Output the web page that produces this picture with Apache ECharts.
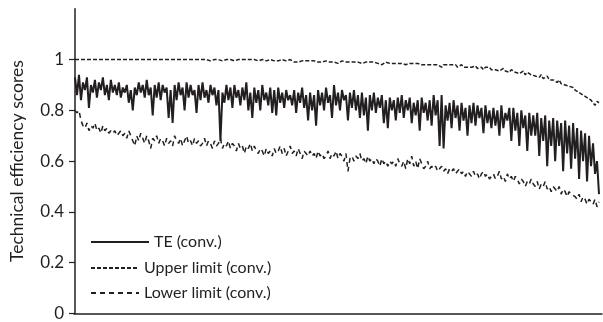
<!DOCTYPE html>
<html><head><meta charset="utf-8">
<script src="https://cdn.jsdelivr.net/npm/echarts@6/dist/echarts.min.js"></script>
<style>html,body{margin:0;padding:0;background:#fff}#c{width:603px;height:322px}</style>
</head><body><div id="c"></div>
<script>
const yTicks = [0, 0.2, 0.4, 0.6, 0.8, 1];
const seriesNames = ['TE (conv.)', 'Upper limit (conv.)', 'Lower limit (conv.)'];
const teValues = [
0.93,0.86,0.94,0.84,0.91,0.88,0.93,0.81,0.90,0.87,
0.92,0.85,0.91,0.88,0.93,0.86,0.90,0.84,0.92,0.87,
0.90,0.86,0.91,0.85,0.89,0.87,0.90,0.83,0.88,0.80,
0.89,0.86,0.91,0.87,0.90,0.85,0.92,0.86,0.89,0.78,
0.90,0.85,0.91,0.84,0.90,0.87,0.89,0.77,0.88,0.75,
0.90,0.84,0.91,0.86,0.89,0.80,0.91,0.85,0.90,0.86,
0.88,0.79,0.90,0.84,0.91,0.85,0.88,0.83,0.90,0.86,
0.89,0.82,0.88,0.68,0.87,0.83,0.90,0.84,0.89,0.81,
0.90,0.85,0.88,0.82,0.89,0.84,0.91,0.80,0.87,0.77,
0.89,0.83,0.88,0.80,0.90,0.84,0.87,0.82,0.89,0.79,
0.88,0.78,0.89,0.83,0.87,0.81,0.88,0.84,0.86,0.82,
0.88,0.79,0.87,0.83,0.89,0.81,0.86,0.76,0.87,0.80,
0.86,0.74,0.88,0.82,0.87,0.80,0.89,0.83,0.86,0.77,
0.90,0.82,0.87,0.80,0.88,0.84,0.86,0.76,0.87,0.81,
0.88,0.80,0.86,0.77,0.87,0.78,0.85,0.72,0.86,0.80,
0.87,0.79,0.85,0.81,0.86,0.75,0.84,0.73,0.85,0.80,
0.84,0.76,0.85,0.79,0.86,0.77,0.84,0.80,0.85,0.75,
0.83,0.78,0.84,0.72,0.85,0.79,0.83,0.76,0.84,0.74,
0.86,0.78,0.84,0.66,0.86,0.65,0.82,0.76,0.83,0.73,
0.84,0.77,0.82,0.72,0.83,0.76,0.81,0.70,0.82,0.75,
0.83,0.74,0.82,0.77,0.81,0.71,0.82,0.75,0.80,0.73,
0.81,0.74,0.80,0.70,0.82,0.73,0.79,0.76,0.81,0.68,
0.81,0.72,0.79,0.66,0.80,0.73,0.78,0.64,0.79,0.70,
0.78,0.70,0.79,0.62,0.77,0.68,0.78,0.58,0.76,0.66,
0.77,0.60,0.76,0.66,0.75,0.56,0.76,0.63,0.74,0.57,
0.75,0.61,0.73,0.53,0.72,0.60,0.71,0.52,0.70,0.58,
0.67,0.55,0.60,0.47
];
const upperValues = [
1,1,1,1,1,1,1,1,1,1,
1,1,1,0.995,1,1,1,1,1,1,
1,1,1,1,1,0.995,1,1,1,1,
1,1,1,1,1,1,1,0.995,1,1,
1,1,1,1,1,1,1,1,1,0.995,
1,1,1,1,1,1,1,1,1,1,
1,0.995,1,1,1,1,1,1,0.995,1,
1,1,1,1,0.995,1,1,1,1,1,
0.995,1,1,1,1,0.995,1,1,1,1,
1,1,0.995,1,1,1,0.995,1,1,1,
0.995,1,0.995,0.995,1,0.995,0.995,0.995,1,0.995,
0.99,0.995,0.99,0.995,0.995,0.99,0.995,0.99,0.995,0.99,
0.995,0.99,0.99,0.995,0.99,0.985,0.995,0.99,0.99,0.995,
0.99,0.99,0.985,0.99,0.995,0.99,0.99,0.985,0.99,0.99,
0.99,0.985,0.99,0.99,0.985,0.99,0.99,0.985,0.99,0.985,
0.99,0.985,0.985,0.99,0.98,0.985,0.99,0.985,0.985,0.98,
0.985,0.99,0.985,0.98,0.985,0.985,0.98,0.985,0.985,0.98,
0.985,0.98,0.985,0.98,0.98,0.985,0.98,0.975,0.98,0.985,
0.98,0.975,0.98,0.985,0.97,0.98,0.975,0.98,0.975,0.98,
0.975,0.98,0.97,0.975,0.98,0.97,0.975,0.97,0.975,0.97,
0.97,0.975,0.965,0.97,0.97,0.96,0.97,0.965,0.97,0.96,
0.965,0.96,0.965,0.955,0.96,0.965,0.955,0.96,0.95,0.96,
0.955,0.95,0.955,0.945,0.95,0.955,0.94,0.95,0.945,0.94,
0.945,0.935,0.94,0.93,0.94,0.925,0.93,0.935,0.92,0.925,
0.92,0.915,0.91,0.92,0.905,0.91,0.9,0.905,0.895,0.9,
0.89,0.88,0.885,0.87,0.875,0.86,0.865,0.85,0.855,0.84,
0.845,0.82,0.835,0.83
];
const lowerValues = [
0.80,0.79,0.80,0.76,0.74,0.73,0.75,0.72,0.74,0.73,
0.75,0.72,0.73,0.71,0.74,0.72,0.73,0.71,0.72,0.71,
0.72,0.70,0.71,0.72,0.70,0.71,0.69,0.72,0.70,0.68,
0.66,0.70,0.68,0.71,0.69,0.67,0.70,0.68,0.65,0.69,
0.68,0.70,0.67,0.69,0.68,0.66,0.69,0.67,0.68,0.66,
0.70,0.68,0.67,0.69,0.66,0.68,0.70,0.67,0.68,0.66,
0.69,0.67,0.68,0.66,0.67,0.69,0.66,0.68,0.67,0.65,
0.68,0.66,0.67,0.69,0.65,0.67,0.66,0.68,0.65,0.67,
0.66,0.64,0.67,0.65,0.66,0.63,0.66,0.65,0.67,0.64,
0.66,0.64,0.63,0.65,0.64,0.62,0.65,0.63,0.64,0.62,
0.65,0.63,0.64,0.66,0.63,0.65,0.62,0.64,0.66,0.63,
0.64,0.62,0.65,0.63,0.61,0.64,0.63,0.62,0.64,0.62,
0.63,0.61,0.64,0.62,0.63,0.61,0.62,0.64,0.61,0.63,
0.62,0.64,0.61,0.63,0.62,0.60,0.63,0.56,0.61,0.62,
0.60,0.62,0.61,0.63,0.60,0.61,0.59,0.62,0.60,0.61,
0.59,0.61,0.60,0.58,0.61,0.59,0.60,0.58,0.60,0.59,
0.60,0.58,0.61,0.59,0.58,0.60,0.57,0.61,0.59,0.62,
0.58,0.60,0.57,0.61,0.59,0.57,0.58,0.60,0.57,0.58,
0.57,0.58,0.56,0.57,0.58,0.56,0.57,0.55,0.57,0.56,
0.57,0.55,0.56,0.57,0.55,0.56,0.54,0.56,0.55,0.54,
0.56,0.54,0.55,0.53,0.55,0.56,0.54,0.55,0.53,0.54,
0.55,0.53,0.54,0.56,0.53,0.54,0.52,0.55,0.53,0.54,
0.52,0.54,0.53,0.51,0.53,0.52,0.50,0.52,0.51,0.53,
0.51,0.50,0.52,0.49,0.51,0.50,0.52,0.49,0.50,0.48,
0.50,0.49,0.48,0.50,0.47,0.49,0.48,0.46,0.48,0.47,
0.47,0.46,0.45,0.47,0.44,0.46,0.45,0.43,0.45,0.44,
0.43,0.45,0.42,0.44
];

const ink = '#231f20';
const font = 'Lato, "Open Sans", sans-serif';
const toPts = arr => arr.map((v, i) => [i, v]);
const n = teValues.length;

const chart = echarts.init(document.getElementById('c'), null, {renderer: 'canvas'});
const legendBase = (name, top, w) => ({
  data: [name],
  left: 90, top: top, orient: 'vertical',
  itemWidth: w, itemHeight: 14, itemGap: 0, padding: 0,
  selectedMode: false,
  itemStyle: {opacity: 0, borderWidth: 0},
  textStyle: {fontFamily: font, fontSize: 16, color: ink}
});
chart.setOption({
  animation: false,
  backgroundColor: '#fff',
  grid: {left: 73, right: 1, top: 8.8, bottom: 6, containLabel: false},
  legend: [
    legendBase(seriesNames[0], 234, 58),
    legendBase(seriesNames[1], 260, 48),
    legendBase(seriesNames[2], 285, 48)
  ],
  xAxis: {
    type: 'value', min: -0.5, max: n + 0.5,
    axisLine: {show: true, onZero: false, lineStyle: {color: ink, width: 1.5}},
    axisTick: {show: false}, axisLabel: {show: false}, splitLine: {show: false}
  },
  yAxis: {
    type: 'value', min: 0, max: 1.2, interval: 0.2,
    name: 'Technical efficiency scores', nameLocation: 'middle', nameGap: 48,
    nameTextStyle: {fontFamily: font, fontSize: 17.5, color: ink},
    axisLine: {show: true, lineStyle: {color: ink, width: 1.5}},
    axisTick: {show: true, length: 6, customValues: yTicks, lineStyle: {color: ink, width: 1.2}},
    axisLabel: {customValues: yTicks, fontFamily: font, fontSize: 17, color: ink, margin: 10},
    splitLine: {show: false}
  },
  series: [
    {name: seriesNames[0], type: 'line', data: toPts(teValues), symbol: 'none',
     lineStyle: {color: ink, width: 2}, itemStyle: {color: ink}},
    {name: seriesNames[1], type: 'line', data: toPts(upperValues), symbol: 'none',
     lineStyle: {color: ink, width: 1.5, type: [4, 2]}, itemStyle: {color: ink}},
    {name: seriesNames[2], type: 'line', data: toPts(lowerValues), symbol: 'none',
     lineStyle: {color: ink, width: 1.5, type: [5, 4]}, itemStyle: {color: ink}}
  ]
});
</script></body></html>
